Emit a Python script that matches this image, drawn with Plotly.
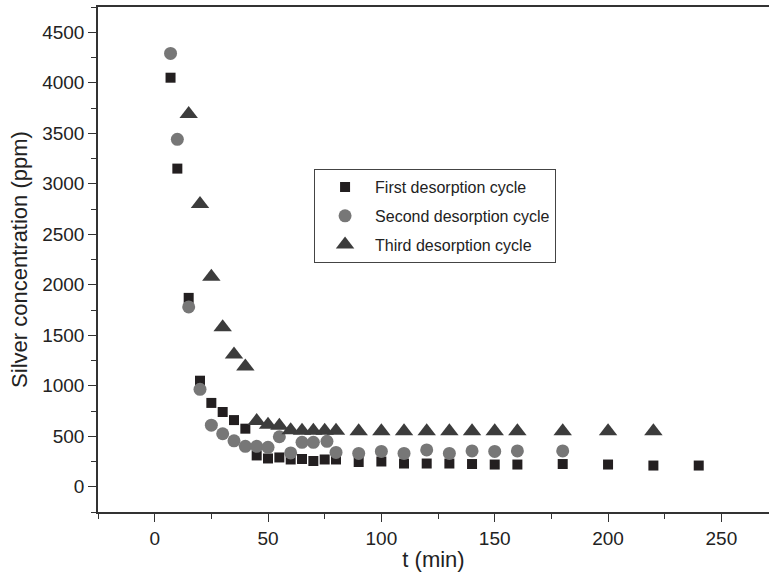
import plotly.graph_objects as go

# ---- data ----
t1 = [7, 10, 15, 20, 25, 30, 35, 40, 45, 50, 55, 60, 65, 70, 75, 80, 90, 100, 110, 120, 130, 140, 150, 160, 180, 200, 220, 240]
c1 = [4050, 3150, 1870, 1050, 830, 740, 660, 575, 310, 280, 290, 270, 275, 255, 270, 270, 245, 250, 230, 230, 230, 225, 220, 220, 225, 220, 210, 210]

t2 = [7, 10, 15, 20, 25, 30, 35, 40, 45, 50, 55, 60, 65, 70, 76, 80, 90, 100, 110, 120, 130, 140, 150, 160, 180]
c2 = [4290, 3440, 1780, 965, 610, 525, 455, 400, 400, 390, 495, 335, 440, 440, 450, 340, 330, 350, 330, 365, 330, 355, 350, 355, 355]

t3 = [15, 20, 25, 30, 35, 40, 45, 50, 55, 60, 65, 70, 75, 80, 90, 100, 110, 120, 130, 140, 150, 160, 180, 200, 220]
c3 = [3690, 2800, 2080, 1580, 1310, 1190, 650, 615, 605, 560, 555, 555, 555, 555, 550, 550, 550, 550, 550, 550, 550, 550, 550, 550, 550]

names = ["First desorption cycle", "Second desorption cycle", "Third desorption cycle"]

x_ticks = [0, 50, 100, 150, 200, 250]
y_ticks = [0, 500, 1000, 1500, 2000, 2500, 3000, 3500, 4000, 4500]

fig = go.Figure()
fig.add_trace(go.Scatter(x=t1, y=c1, mode="markers", name=names[0], legendgroup="a",
                         marker=dict(symbol="square", size=10, color="#231f20", line=dict(width=0))))
fig.add_trace(go.Scatter(x=t2, y=c2, mode="markers", name=names[1], legendgroup="b",
                         marker=dict(symbol="circle", size=13, color="#777777", line=dict(width=0))))
fig.add_trace(go.Scatter(x=t3, y=c3, mode="markers", name=names[2], legendgroup="c",
                         marker=dict(symbol="triangle-up", size=16, color="#3c3c3c", line=dict(width=0))))

axis_common = dict(showgrid=False, zeroline=False, showline=True, linecolor="#333333", linewidth=1.5,
                   ticks="outside", ticklen=8, tickwidth=1.2, tickcolor="#333333",
                   tickfont=dict(size=19, color="#222222"))

fig.update_xaxes(range=[-25, 271], tickvals=x_ticks, mirror=True,
                 minor=dict(dtick=25, tick0=0, ticks="outside", ticklen=5, tickcolor="#333333", tickwidth=1.2),
                 title=dict(text="t (min)", font=dict(size=22, color="#222222"), standoff=4),
                 **axis_common)
fig.update_yaxes(range=[-250, 4750], tickvals=y_ticks,
                 minor=dict(dtick=250, tick0=0, ticks="outside", ticklen=5, tickcolor="#333333", tickwidth=1.2),
                 title=dict(text="Silver concentration (ppm)", font=dict(size=22, color="#222222"), standoff=8),
                 **axis_common)

fig.update_layout(
    width=769, height=577,
    margin=dict(l=98, r=0, t=7, b=65),
    plot_bgcolor="white", paper_bgcolor="white",
    font=dict(family="Liberation Sans, Arial, sans-serif", color="#222222"),
    legend=dict(x=0.322, y=0.679, xanchor="left", yanchor="top",
                bordercolor="#444444", borderwidth=1, bgcolor="white",
                font=dict(size=16), itemwidth=50, tracegroupgap=5,
                traceorder="grouped"),
)

fig.write_html("out.html")
